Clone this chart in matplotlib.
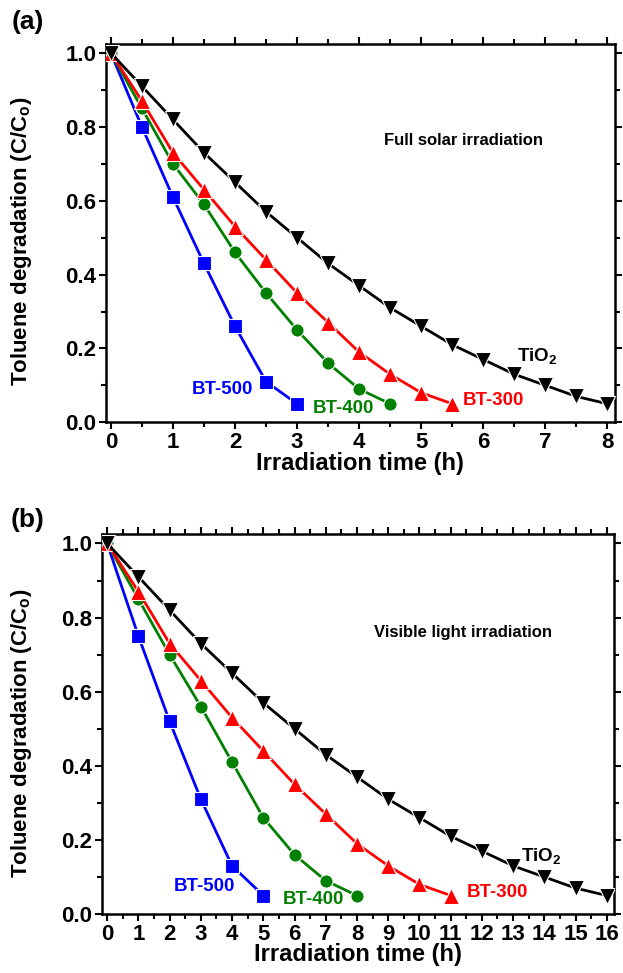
import matplotlib.pyplot as plt
from matplotlib.ticker import MultipleLocator

plt.rcParams['font.family'] = ['Liberation Sans', 'DejaVu Sans']
plt.rcParams['font.weight'] = 'bold'
plt.rcParams['mathtext.fontset'] = 'custom'
plt.rcParams['mathtext.rm'] = 'Liberation Sans:bold'
plt.rcParams['mathtext.it'] = 'Liberation Sans:bold'
plt.rcParams['mathtext.bf'] = 'Liberation Sans:bold'

# (a) full solar irradiation, sampled every 0.5 h
time_a = [0, 0.5, 1, 1.5, 2, 2.5, 3, 3.5, 4, 4.5, 5, 5.5, 6, 6.5, 7, 7.5, 8]
# (b) visible light irradiation, sampled every 1 h
time_b = list(range(17))

tio2 = [1.0, 0.91, 0.82, 0.73, 0.65, 0.57, 0.50, 0.43, 0.37, 0.31, 0.26, 0.21, 0.17, 0.13, 0.10, 0.07, 0.05]
bt300 = [1.0, 0.87, 0.73, 0.63, 0.53, 0.44, 0.35, 0.27, 0.19, 0.13, 0.08, 0.05]
bt400_a = [1.0, 0.85, 0.70, 0.59, 0.46, 0.35, 0.25, 0.16, 0.09, 0.05]
bt500_a = [1.0, 0.80, 0.61, 0.43, 0.26, 0.11, 0.05]
bt400_b = [1.0, 0.85, 0.70, 0.56, 0.41, 0.26, 0.16, 0.09, 0.05]
bt500_b = [1.0, 0.75, 0.52, 0.31, 0.13, 0.05]

blue = '#0000ff'
green = '#008000'
red = '#ff0000'


def draw_panel(ax, t, series, labels, note, xmax, ylab_pos):
    for y, color, marker, ms in series:
        ax.plot(t[:len(y)], y, color=color, marker=marker, ms=ms, lw=2,
                mec='white', mew=0.8, zorder=3)
    for txt, x, y, color in labels:
        ax.text(x, y, txt, color=color, fontsize=13.5, fontweight='bold',
                ha='center', va='center')
    ax.text(note[1], note[2], note[0], fontsize=12, fontweight='bold',
            ha='center', va='center')
    ax.set_xlim(-0.08 * xmax / 8, xmax * 1.015)
    ax.set_ylim(0, 1.025)
    ax.xaxis.set_major_locator(MultipleLocator(1))
    ax.xaxis.set_minor_locator(MultipleLocator(0.5))
    ax.yaxis.set_major_locator(MultipleLocator(0.2))
    ax.yaxis.set_minor_locator(MultipleLocator(0.1))
    ax.tick_params(which='both', direction='out', top=True, right=True,
                   width=1.5, labelsize=16, pad=2)
    ax.tick_params(which='major', length=5)
    ax.tick_params(which='minor', length=3.5)
    for s in ax.spines.values():
        s.set_linewidth(1.8)
    for lab in ax.get_xticklabels() + ax.get_yticklabels():
        lab.set_fontweight('bold')
    ax.set_xlabel('Irradiation time (h)', fontsize=17, fontweight='bold', labelpad=-1)
    ax.set_ylabel('Toluene degradation (C/C$_o$)', fontsize=16, fontweight='bold')
    ax.yaxis.set_label_coords(*ylab_pos)


fig = plt.figure(figsize=(6.23, 9.73), dpi=100)

ax1 = fig.add_axes([0.170, 0.566, 0.817, 0.389])
draw_panel(ax1, time_a,
           [(bt500_a, blue, 's', 9.5), (bt400_a, green, 'o', 9.5),
            (bt300, red, '^', 11), (tio2, 'black', 'v', 11)],
           [('BT-500', 1.8, 0.088, blue), ('BT-400', 3.74, 0.037, green),
            ('BT-300', 6.16, 0.058, red), ('TiO$_2$', 6.87, 0.18, 'black')],
           ('Full solar irradiation', 5.68, 0.764), 8, (-0.141, 0.477))
fig.text(0.045, 0.977, '(a)', fontsize=19, fontweight='bold', ha='center', va='center')

ax2 = fig.add_axes([0.164, 0.0606, 0.822, 0.3904])
draw_panel(ax2, time_b,
           [(bt500_b, blue, 's', 9.5), (bt400_b, green, 'o', 9.5),
            (bt300, red, '^', 11), (tio2, 'black', 'v', 11)],
           [('BT-500', 3.1, 0.074, blue), ('BT-400', 6.62, 0.04, green),
            ('BT-300', 12.5, 0.058, red), ('TiO$_2$', 13.9, 0.157, 'black')],
           ('Visible light irradiation', 11.4, 0.76), 16, (-0.133, 0.475))
fig.text(0.045, 0.466, '(b)', fontsize=19, fontweight='bold', ha='center', va='center')

fig.savefig('out.png', dpi=100)
